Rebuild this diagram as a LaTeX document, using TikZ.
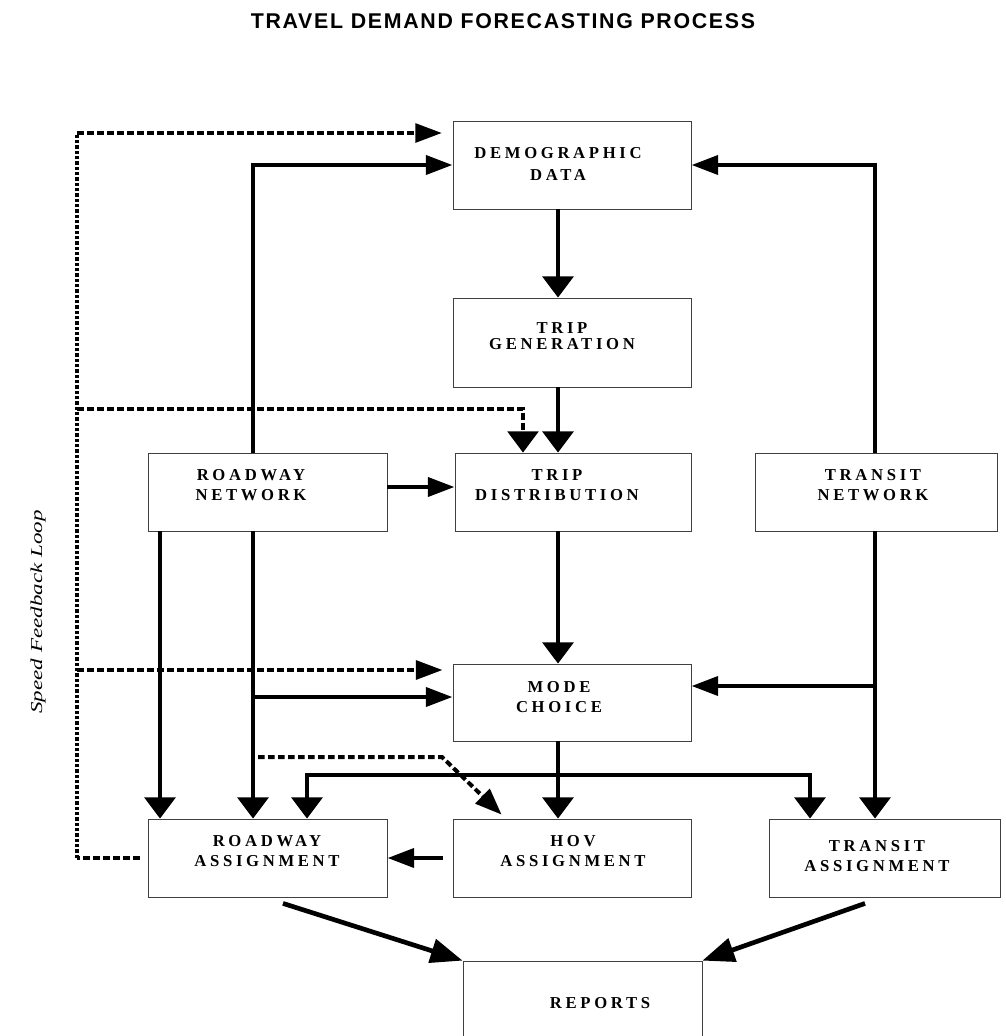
\documentclass[tikz,border=0pt]{standalone}
\usepackage{fontspec}
\setmainfont{Liberation Serif}
\newfontfamily\boxfont[LetterSpace=22]{Liberation Serif}
\newfontfamily\headfont[LetterSpace=8]{Liberation Sans}
\usetikzlibrary{arrows.meta,positioning}

\begin{document}
\begin{tikzpicture}[
    x=0.75pt, y=-0.75pt,
    box/.style={draw=black!75,line width=0.6pt,inner sep=0pt},
    lbl/.style={font=\boxfont\bfseries\fontsize{12.5}{15}\selectfont,align=center,inner sep=0pt},
    flow/.style={line width=3.5pt},
    fb/.style={line width=3pt,dash pattern=on 5pt off 2.5pt},
    into/.style={-{Triangle[length=20pt,width=14pt]}},
    drop/.style={-{Triangle[length=16pt,width=23pt]}},
    slant/.style={-{Triangle[length=24pt,width=18pt]}}
]
\useasboundingbox (0,0) rectangle (1006,1036);

\node[font=\headfont\bfseries\fontsize{16}{19}\selectfont] (title) at (503,21)
    {TRAVEL DEMAND FORECASTING PROCESS};

% the boxes
\node[box,minimum width=178.5pt,minimum height=66pt]    (demo)  at (572,165) {};
\node[box,minimum width=178.5pt,minimum height=66.75pt] (tgen)  at (572,342.5) {};
\node[box,minimum width=179.25pt,minimum height=58.5pt] (rnet)  at (267.5,492) {};
\node[box,minimum width=177pt,minimum height=58.5pt]    (tdist) at (573,492) {};
\node[box,minimum width=181.5pt,minimum height=58.5pt]  (tnet)  at (876,492) {};
\node[box,minimum width=178.5pt,minimum height=57.75pt] (mode)  at (572,702.5) {};
\node[box,minimum width=179.25pt,minimum height=58.5pt] (rasg)  at (267.5,858) {};
\node[box,minimum width=178.5pt,minimum height=58.5pt]  (hasg)  at (572,858) {};
\node[box,minimum width=173.25pt,minimum height=58.5pt] (tasg)  at (884.5,858) {};
\node[box,minimum width=179.25pt,minimum height=66pt]   (rep)   at (582.5,1005) {};

% box texts
\node[lbl] (demo-t)  at (558,164) {DEMOGRAPHIC\\[1.9pt]DATA};
\node[lbl] (tgen-t)  at (562,336) {TRIP\\[-2.6pt]GENERATION};
\node[lbl] (rnet-t)  at (251,485) {ROADWAY\\NETWORK};
\node[lbl] (tdist-t) at (557,485) {TRIP\\DISTRIBUTION};
\node[lbl] (tnet-t)  at (873,485) {TRANSIT\\NETWORK};
\node[lbl] (mode-t)  at (559,697) {MODE\\CHOICE};
\node[lbl] (rasg-t)  at (267,851) {ROADWAY\\ASSIGNMENT};
\node[lbl] (hasg-t)  at (573,851) {HOV\\ASSIGNMENT};
\node[lbl] (tasg-t)  at (877,856) {TRANSIT\\ASSIGNMENT};
\node[lbl] (rep-t)   at (600,1003) {REPORTS};

\node[rotate=90,font=\itshape\fontsize{12.5}{15}\selectfont] (loop) at (38,612)
    {\scalebox{1.38}[1]{Speed Feedback Loop}};

% trunk lines and branch points
\coordinate (rA) at (160,0);
\coordinate (rB) at (253,0);
\coordinate (rC) at (307,0);
\coordinate (cM) at (558,0);
\coordinate (tC) at (810,0);
\coordinate (tB) at (875,0);
\coordinate (gx) at (523,0);
\coordinate (rbr) at (253,697);
\coordinate (tbr) at (875,686);
\coordinate (mbr) at (558,775);
\coordinate (fbTop) at (77,133);
\coordinate (fbGen) at (77,409);
\coordinate (fbMode) at (77,670);
\coordinate (hovA) at (258,757);
\coordinate (hovB) at (442,757);

% main flow
\draw[flow,into] (rnet.north -| rB) |- (demo.west);
\draw[flow,into] (tnet.north -| tB) |- (demo.east);
\draw[flow,drop] (demo.south -| cM) -- (tgen.north -| cM);
\draw[flow,drop] (tgen.south -| cM) -- (tdist.north -| cM);
\draw[flow,into] ([yshift=3.75pt]rnet.east) -- ([yshift=3.75pt]tdist.west);
\draw[flow,drop] (tdist.south -| cM) -- (mode.north -| cM);
\draw[flow,drop] (tnet.south -| tB) -- (tasg.north -| tB);
\draw[flow,into] (tbr) -- (tbr -| mode.east);
\draw[flow,drop] (rnet.south -| rA) -- (rasg.north -| rA);
\draw[flow,drop] (rnet.south -| rB) -- (rasg.north -| rB);
\draw[flow,into] (rbr) -- (rbr -| mode.west);
\draw[flow,drop] (mode.south -| cM) -- (hasg.north -| cM);
\draw[flow,drop] (mbr) -| (rasg.north -| rC);
\draw[flow,drop] (mbr) -| (tasg.north -| tC);
\draw[flow,into,shorten <=7.5pt] (hasg.west) -- (rasg.east);
\draw[flow,slant] ([shift={(15.5,6)}]rasg.south) -- (rep.north west);
\draw[flow,slant] ([shift={(-19.5,6)}]tasg.south) -- (rep.north east);

% speed feedback loop (dotted)
\draw[fb,shorten <=6pt] (rasg.west) -- (rasg.west -| fbTop);
\draw[fb,dash pattern=on 2.5pt off 1.5pt] (rasg.west -| fbTop) -- (fbTop);
\draw[fb,into,shorten >=8pt] (fbTop) -- (fbTop -| demo.west);
\draw[fb,drop] (fbGen) -| (gx |- tdist.north);
\draw[fb,into,shorten >=7.5pt] (fbMode) -- (fbMode -| mode.west);
\draw[fb,-{Triangle[length=20pt,width=15pt]}] (hovA) -- (hovB) -- ([shift={(49,-4)}]hasg.north west);
\end{tikzpicture}
\end{document}
